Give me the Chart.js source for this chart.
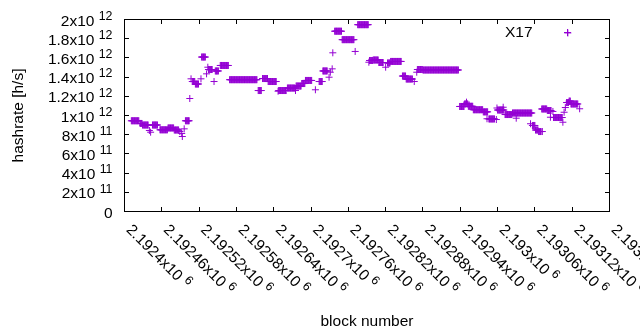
<!DOCTYPE html>
<html><head><meta charset="utf-8">
<script src="https://cdn.jsdelivr.net/npm/chart.js@4/dist/chart.umd.min.js"></script>
<style>html,body{margin:0;padding:0;background:#fff}</style>
</head><body>
<canvas id="c" width="640" height="330"></canvas>
<script>
// ---- data (block number, hashrate in h/s) ----
const seriesName = 'X17';
const blocks = [
2192411,2192412,2192413,2192414,2192415,2192416,2192417,2192418,2192419,2192420,2192421,2192422,2192423,
2192425,2192426,2192427,2192428,
2192429,2192430,2192431,2192432,2192433,2192434,2192435,2192436,2192437,2192438,
2192440,2192442,
2192445,2192446,2192447,2192448,2192449,2192450,2192451,2192452,2192453,
2192457,2192458,2192459,2192460,2192461,2192462,2192463,2192464,2192465,2192466,2192467,2192468,2192469,
2192470,2192471,2192472,2192473,2192474,2192475,2192476,2192477,2192478,2192479,
2192480,2192481,2192482,2192483,2192484,2192485,2192486,2192487,
2192489,2192492,2192493,2192496,
2192498,2192499,2192500,2192501,2192502,2192503,2192504,
2192505,2192507,
2192509,2192510,2192511,2192512,2192513,
2192514,2192515,2192516,2192517,2192518,2192519,
2192523,
2192524,2192525,2192526,2192527,2192528,2192529,2192530,
2192532,2192534,
2192535,2192536,2192537,2192538,2192539,2192540,2192541,
2192544,
2192546,2192547,2192548,2192549,2192550,2192551,
2192554,2192555,2192556,2192557,2192558,2192559,2192560,2192561,2192562,2192563,2192564,2192565,2192566,2192567,
2192569,2192570,2192571,2192572,2192573,2192574,2192575,2192576,2192577,2192578,
2192579,2192580,2192581,2192582,2192583,2192584,2192585,2192586,2192587,2192588,
2192589,2192590,2192591,2192592,2192593,2192594,2192595,2192596,2192597,2192598,
2192599,2192600,2192601,2192602,2192603,2192604,2192605,2192606,2192607,2192608,
2192609,2192610,2192611,2192612,2192613,
2192615,2192616,2192617,2192618,2192619,2192620,
2192622,2192623,2192624,2192625,2192626,2192627,2192628,2192629,2192630,
2192631,2192632,2192633,2192634,2192635,2192636,2192637,2192638,2192639,2192640,2192641,2192642,2192643,2192644,
2192647,
2192648,2192649,2192650,2192651,2192652,2192653,2192654,2192655,2192656,2192657,2192658,2192659,2192660,
2192662,2192663,2192664,2192665,2192666,2192667,2192668,2192669,2192670,2192671,2192672,2192673,2192674,
2192675,
2192676,2192677,2192678,2192679,2192680,2192681,2192682,2192683,2192684,
2192685,2192686,2192687,2192688,2192689,2192690,
2192691,2192692,2192693,2192694,2192695,2192696,2192697,2192698,2192699,2192700,2192701,
2192707,
2192713,2192714,2192715,2192716,2192717,2192718,
2192719,2192720,2192721,2192722,2192723,2192724,2192725,2192726,
2192729,2192731,2192734,2192735,
2192738,2192739,2192740,2192741,2192742,2192743,2192744,2192745,2192746,2192747,2192748,2192749,
2192750,2192751,2192752,2192753,2192754,2192755,2192756,2192757,2192758,2192759,
2192760,2192761,2192762,2192763,2192764,2192765,2192766,2192767,2192768,2192769,
2192771,
2192775,2192776,2192777,2192778,2192779,2192780,2192781,2192782,2192783,2192784,2192785,2192786,2192787,2192788,2192789,2192790,2192791,2192792,
2192793,
2192794,2192795,2192796,2192797,2192798,2192799,
2192800,2192801,2192802,2192803,2192804,2192805,2192806,2192807,2192808,
2192809,2192810,2192811,2192812,2192813,2192814,2192815,2192816,
2192820,
2192823,2192824,2192825,2192826,2192827,
2192828,2192829,2192830,2192831,2192832,2192833,2192834,2192835,2192836,2192837,2192838,2192839,2192840,2192841,2192842,2192843,2192844,2192845,
2192847,2192848,2192849,2192850,2192851,2192852,
2192853,2192854,2192855,2192856,2192857,2192858,2192859,2192860,2192861,2192862,2192863,
2192866,2192870,
2192871,2192872,2192873,2192874,2192875,2192876,2192877,2192878,2192879,
2192880,2192881,2192882,2192883,2192884,2192885,2192886,2192887,2192888,2192889,
2192890,2192891,2192892,2192893,2192894,2192895,2192896,2192897,2192898,2192899,
2192900,2192901,2192902,2192903,2192904,2192905,2192906,2192907,2192908,2192909,
2192910,2192911,2192912,2192913,2192914,2192915,2192916,2192917,2192918,2192919,
2192920,2192921,2192922,2192923,2192924,2192925,2192926,2192927,2192928,2192929,
2192930,2192931,2192932,2192933,2192934,2192935,2192936,2192937,
2192939,2192940,2192941,2192942,2192943,2192944,2192945,2192946,
2192947,2192948,2192949,2192950,2192951,2192952,
2192953,2192954,2192955,2192956,2192957,2192958,2192959,2192960,
2192961,2192962,2192963,2192964,2192965,2192966,2192967,2192968,2192969,2192970,2192971,2192972,2192973,2192974,2192975,2192976,
2192977,2192978,2192979,2192980,2192981,2192982,2192983,2192984,
2192983,
2192986,2192987,2192988,2192989,2192990,2192991,2192992,2192993,2192994,2192995,
2192998,2192999,
2193000,2193001,2193002,2193003,2193004,2193005,2193006,2193007,2193008,2193009,2193010,
2193009,
2193012,2193013,2193014,2193015,2193016,2193017,2193018,2193019,2193020,2193021,2193022,2193023,
2193024,2193025,2193026,2193027,2193028,2193029,2193030,2193031,2193032,2193033,
2193034,2193035,2193036,2193037,2193038,2193039,2193040,2193041,2193042,2193043,
2193044,2193045,2193046,2193047,2193048,2193049,2193050,2193051,2193052,2193053,
2193054,2193055,
2193030,2193053,
2193056,2193057,2193058,2193059,2193060,
2193061,2193062,2193063,2193064,2193065,
2193066,2193067,2193068,2193069,2193070,
2193072,
2193071,2193072,2193073,2193074,2193075,2193076,2193077,2193078,2193079,
2193080,2193081,2193082,2193083,2193084,2193085,2193086,
2193085,2193089,
2193090,2193091,2193092,2193093,2193094,2193095,2193096,2193097,2193098,2193099,2193100,2193101,2193102,2193103,2193104,
2193105,2193107,2193109,
2193111,2193112,2193113,2193114,
2193115,2193116,2193117,
2193113,
2193118,2193119,2193120,2193121,2193122,2193123,2193124,2193125,2193126,2193127,2193128,2193129,
2193132
];
const hashrate = [
9.45e11,9.45e11,9.45e11,9.45e11,9.45e11,9.45e11,9.45e11,9.45e11,9.45e11,9.45e11,9.45e11,9.45e11,9.45e11,
9.17e11,9.17e11,9.17e11,9.17e11,
9.01e11,9.01e11,9.01e11,9.01e11,9.01e11,9.01e11,9.01e11,9.01e11,9.01e11,9.01e11,
8.44e11,8.26e11,
9.01e11,9.01e11,9.01e11,9.01e11,9.01e11,9.01e11,9.01e11,9.01e11,9.01e11,
8.51e11,8.51e11,8.51e11,8.51e11,8.51e11,8.51e11,8.51e11,8.51e11,8.51e11,8.51e11,8.51e11,8.51e11,8.51e11,
8.70e11,8.70e11,8.70e11,8.70e11,8.70e11,8.70e11,8.70e11,8.70e11,8.70e11,8.70e11,
8.49e11,8.49e11,8.49e11,8.49e11,8.49e11,8.49e11,8.49e11,8.49e11,
8.33e11,8.13e11,7.81e11,8.61e11,
9.45e11,9.45e11,9.45e11,9.45e11,9.45e11,9.45e11,9.45e11,
1.177e12,1.382e12,
1.354e12,1.354e12,1.354e12,1.354e12,1.354e12,
1.328e12,1.328e12,1.328e12,1.328e12,1.328e12,1.328e12,
1.382e12,
1.609e12,1.609e12,1.609e12,1.609e12,1.609e12,1.609e12,1.609e12,
1.434e12,1.503e12,
1.479e12,1.479e12,1.479e12,1.479e12,1.479e12,1.479e12,1.479e12,
1.354e12,
1.464e12,1.464e12,1.464e12,1.464e12,1.464e12,1.464e12,
1.521e12,1.521e12,1.521e12,1.521e12,1.521e12,1.521e12,1.521e12,1.521e12,1.521e12,1.521e12,1.521e12,1.521e12,1.521e12,1.521e12,
1.373e12,1.373e12,1.373e12,1.373e12,1.373e12,1.373e12,1.373e12,1.373e12,1.373e12,1.373e12,
1.373e12,1.373e12,1.373e12,1.373e12,1.373e12,1.373e12,1.373e12,1.373e12,1.373e12,1.373e12,
1.373e12,1.373e12,1.373e12,1.373e12,1.373e12,1.373e12,1.373e12,1.373e12,1.373e12,1.373e12,
1.373e12,1.373e12,1.373e12,1.373e12,1.373e12,1.373e12,1.373e12,1.373e12,1.373e12,1.373e12,
1.373e12,1.373e12,1.373e12,1.373e12,1.373e12,
1.26e12,1.26e12,1.26e12,1.26e12,1.26e12,1.26e12,
1.385e12,1.385e12,1.385e12,1.385e12,1.385e12,1.385e12,1.385e12,1.385e12,1.385e12,
1.354e12,1.354e12,1.354e12,1.354e12,1.354e12,1.354e12,1.354e12,1.354e12,1.354e12,1.354e12,1.354e12,1.354e12,1.354e12,1.354e12,
1.253e12,
1.26e12,1.26e12,1.26e12,1.26e12,1.26e12,1.26e12,1.26e12,1.26e12,1.26e12,1.26e12,1.26e12,1.26e12,1.26e12,
1.286e12,1.286e12,1.286e12,1.286e12,1.286e12,1.286e12,1.286e12,1.286e12,1.286e12,1.286e12,1.286e12,1.286e12,1.286e12,
1.26e12,
1.307e12,1.307e12,1.307e12,1.307e12,1.307e12,1.307e12,1.307e12,1.307e12,1.307e12,
1.333e12,1.333e12,1.333e12,1.333e12,1.333e12,1.333e12,
1.365e12,1.365e12,1.365e12,1.365e12,1.365e12,1.365e12,1.365e12,1.365e12,1.365e12,1.365e12,1.365e12,
1.268e12,
1.354e12,1.354e12,1.354e12,1.354e12,1.354e12,1.354e12,
1.464e12,1.464e12,1.464e12,1.464e12,1.464e12,1.464e12,1.464e12,1.464e12,
1.399e12,1.451e12,1.486e12,1.653e12,
1.878e12,1.878e12,1.878e12,1.878e12,1.878e12,1.878e12,1.878e12,1.878e12,1.878e12,1.878e12,1.878e12,1.878e12,
1.79e12,1.79e12,1.79e12,1.79e12,1.79e12,1.79e12,1.79e12,1.79e12,1.79e12,1.79e12,
1.79e12,1.79e12,1.79e12,1.79e12,1.79e12,1.79e12,1.79e12,1.79e12,1.79e12,1.79e12,
1.667e12,
1.946e12,1.946e12,1.946e12,1.946e12,1.946e12,1.946e12,1.946e12,1.946e12,1.946e12,1.946e12,1.946e12,1.946e12,1.946e12,1.946e12,1.946e12,1.946e12,1.946e12,1.946e12,
1.555e12,
1.573e12,1.573e12,1.573e12,1.573e12,1.573e12,1.573e12,
1.578e12,1.578e12,1.578e12,1.578e12,1.578e12,1.578e12,1.578e12,1.578e12,1.578e12,
1.552e12,1.552e12,1.552e12,1.552e12,1.552e12,1.552e12,1.552e12,1.552e12,
1.503e12,
1.547e12,1.547e12,1.547e12,1.547e12,1.547e12,
1.563e12,1.563e12,1.563e12,1.563e12,1.563e12,1.563e12,1.563e12,1.563e12,1.563e12,1.563e12,1.563e12,1.563e12,1.563e12,1.563e12,1.563e12,1.563e12,1.563e12,1.563e12,
1.411e12,1.411e12,1.411e12,1.411e12,1.411e12,1.411e12,
1.38e12,1.38e12,1.38e12,1.38e12,1.38e12,1.38e12,1.38e12,1.38e12,1.38e12,1.38e12,1.38e12,
1.354e12,1.451e12,
1.479e12,1.479e12,1.479e12,1.479e12,1.479e12,1.479e12,1.479e12,1.479e12,1.479e12,
1.474e12,1.474e12,1.474e12,1.474e12,1.474e12,1.474e12,1.474e12,1.474e12,1.474e12,1.474e12,
1.474e12,1.474e12,1.474e12,1.474e12,1.474e12,1.474e12,1.474e12,1.474e12,1.474e12,1.474e12,
1.474e12,1.474e12,1.474e12,1.474e12,1.474e12,1.474e12,1.474e12,1.474e12,1.474e12,1.474e12,
1.474e12,1.474e12,1.474e12,1.474e12,1.474e12,1.474e12,1.474e12,1.474e12,1.474e12,1.474e12,
1.474e12,1.474e12,1.474e12,1.474e12,1.474e12,1.474e12,1.474e12,1.474e12,1.474e12,1.474e12,
1.474e12,1.474e12,1.474e12,1.474e12,1.474e12,1.474e12,1.474e12,1.474e12,
1.094e12,1.094e12,1.094e12,1.094e12,1.094e12,1.094e12,1.094e12,1.094e12,
1.12e12,1.12e12,1.12e12,1.139e12,1.12e12,1.12e12,
1.096e12,1.096e12,1.096e12,1.096e12,1.096e12,1.096e12,1.096e12,1.096e12,
1.06e12,1.06e12,1.06e12,1.06e12,1.06e12,1.06e12,1.06e12,1.06e12,1.06e12,1.06e12,1.06e12,1.06e12,1.06e12,1.06e12,1.06e12,1.06e12,
1.038e12,1.038e12,1.038e12,1.038e12,1.038e12,1.038e12,1.038e12,1.038e12,
9.66e11,
9.64e11,9.64e11,9.64e11,9.64e11,9.64e11,9.64e11,9.64e11,9.64e11,9.64e11,9.64e11,
9.58e11,1.078e12,
1.057e12,1.057e12,1.057e12,1.057e12,1.057e12,1.057e12,1.057e12,1.057e12,1.057e12,1.057e12,1.057e12,
1.086e12,
1.01e12,1.01e12,1.01e12,1.01e12,1.01e12,1.01e12,1.01e12,1.01e12,1.01e12,1.01e12,1.01e12,1.01e12,
1.026e12,1.026e12,1.026e12,1.026e12,1.026e12,1.026e12,1.026e12,1.026e12,1.026e12,1.026e12,
1.026e12,1.026e12,1.026e12,1.026e12,1.026e12,1.026e12,1.026e12,1.026e12,1.026e12,1.026e12,
1.026e12,1.026e12,1.026e12,1.026e12,1.026e12,1.026e12,1.026e12,1.026e12,1.026e12,1.026e12,
1.026e12,1.026e12,
9.72e11,9.14e11,
8.96e11,8.96e11,8.96e11,8.96e11,8.96e11,
8.49e11,8.49e11,8.49e11,8.49e11,8.49e11,
8.33e11,8.33e11,8.33e11,8.33e11,8.33e11,
8.33e11,
1.068e12,1.068e12,1.068e12,1.068e12,1.068e12,1.068e12,1.068e12,1.068e12,1.068e12,
1.052e12,1.052e12,1.052e12,1.052e12,1.052e12,1.052e12,1.052e12,
9.82e11,1.042e12,
9.79e11,9.79e11,9.79e11,9.79e11,9.79e11,9.79e11,9.79e11,9.79e11,9.79e11,9.79e11,9.79e11,9.79e11,9.79e11,9.79e11,9.79e11,
9.3e11,1.034e12,1.083e12,
1.135e12,1.135e12,1.135e12,1.135e12,
1.15e12,1.15e12,1.15e12,
1.86e12,
1.12e12,1.12e12,1.12e12,1.12e12,1.12e12,1.12e12,1.12e12,1.12e12,1.12e12,1.12e12,1.12e12,1.12e12,
1.07e12
];
// ---- ticks ----
const xTickValues = [2192400,2192460,2192520,2192580,2192640,2192700,2192760,2192820,2192880,2192940,2193000,2193060,2193120,2193180];
const xTickText = ['2.1924x10','2.19246x10','2.19252x10','2.19258x10','2.19264x10','2.1927x10','2.19276x10','2.19282x10','2.19288x10','2.19294x10','2.193x10','2.19306x10','2.19312x10','2.19318x10'];
const xTickSup = ['6','6','6','6','6','6','6','6','6','6','6','6','6','6'];
const yTickValues = [0,2e11,4e11,6e11,8e11,1e12,1.2e12,1.4e12,1.6e12,1.8e12,2e12];
const yTickText = ['0','2x10','4x10','6x10','8x10','1x10','1.2x10','1.4x10','1.6x10','1.8x10','2x10'];
const yTickSup = ['','11','11','11','11','12','12','12','12','12','12'];
const xTitle = 'block number';
const yTitle = 'hashrate [h/s]';

const COLOR = '#9400d3';
const FF = '"Liberation Sans", Arial, sans-serif';
const FS = 15.5, SS = 12.4;

function drawCross(ctx, x, y, r){
  ctx.beginPath();
  ctx.moveTo(x - r, y); ctx.lineTo(x + r, y);
  ctx.moveTo(x, y - r); ctx.lineTo(x, y + r);
  ctx.stroke();
}

const frame = {
  id: 'gnuframe',
  beforeDatasetsDraw(chart){
    const {ctx, chartArea: a, scales: {x, y}} = chart;
    ctx.save();
    ctx.strokeStyle = '#000'; ctx.lineWidth = 1;
    ctx.strokeRect(a.left, a.top, a.right - a.left, a.bottom - a.top);
    ctx.beginPath();
    xTickValues.forEach(v => {
      const px = Math.round(x.getPixelForValue(v) - 0.5) + 0.5;
      ctx.moveTo(px, a.bottom); ctx.lineTo(px, a.bottom - 4.5);
      ctx.moveTo(px, a.top); ctx.lineTo(px, a.top + 4.5);
    });
    yTickValues.forEach(v => {
      const py = Math.round(y.getPixelForValue(v) - 0.5) + 0.5;
      ctx.moveTo(a.left, py); ctx.lineTo(a.left + 4.5, py);
      ctx.moveTo(a.right, py); ctx.lineTo(a.right - 4.5, py);
    });
    ctx.stroke();
    ctx.restore();
  },
  afterDraw(chart){
    const {ctx, chartArea: a, scales: {x, y}} = chart;
    ctx.save();
    ctx.fillStyle = '#000';
    ctx.textBaseline = 'alphabetic';
    ctx.textAlign = 'left';
    // y tick labels
    yTickValues.forEach((v, i) => {
      const py = y.getPixelForValue(v);
      ctx.font = FS + 'px ' + FF;
      const wm = ctx.measureText(yTickText[i]).width;
      ctx.font = SS + 'px ' + FF;
      const ws = yTickSup[i] ? ctx.measureText(yTickSup[i]).width : 0;
      const gap = yTickSup[i] ? 4.3 : 0;
      const right = 112.5;
      const x0 = right - ws - gap - wm;
      ctx.font = FS + 'px ' + FF;
      ctx.fillText(yTickText[i], x0, py + 6);
      if (yTickSup[i]) {
        ctx.font = SS + 'px ' + FF;
        ctx.fillText(yTickSup[i], x0 + wm + gap, py + 0.3);
      }
    });
    // x tick labels, rotated
    xTickValues.forEach((v, i) => {
      const px = x.getPixelForValue(v);
      ctx.save();
      ctx.translate(px + 1, 230.5);
      ctx.rotate(Math.PI / 4);
      ctx.font = FS + 'px ' + FF;
      const wm = ctx.measureText(xTickText[i]).width;
      ctx.fillText(xTickText[i], 0, 0);
      ctx.font = SS + 'px ' + FF;
      ctx.fillText(xTickSup[i], wm + 4.3, -5.7);
      ctx.restore();
    });
    // axis titles
    ctx.font = FS + 'px ' + FF;
    ctx.textAlign = 'center';
    ctx.fillText(xTitle, (a.left + a.right) / 2, 325.5);
    ctx.save();
    ctx.translate(22.5, (a.top + a.bottom) / 2);
    ctx.rotate(-Math.PI / 2);
    ctx.fillText(yTitle, 0, 0);
    ctx.restore();
    // key
    ctx.textAlign = 'right';
    ctx.fillText(seriesName, 532.5, 37);
    ctx.strokeStyle = COLOR; ctx.lineWidth = 1;
    drawCross(ctx, 567.5, 32.5, 3.5);
    ctx.restore();
  }
};

new Chart(document.getElementById('c'), {
  type: 'scatter',
  data: {
    datasets: [{
      label: seriesName,
      data: blocks.map((b, i) => ({x: b, y: hashrate[i]})),
      pointStyle: 'cross',
      pointRadius: 3.5,
      pointHoverRadius: 3.5,
      borderColor: COLOR,
      backgroundColor: COLOR,
      borderWidth: 1,
      showLine: false
    }]
  },
  options: {
    responsive: false,
    animation: false,
    events: [],
    layout: {padding: {left: 124.5, right: 30.5, top: 19.5, bottom: 118.5}},
    plugins: {legend: {display: false}, tooltip: {enabled: false}},
    scales: {
      x: {type: 'linear', min: 2192400, max: 2193180, display: false},
      y: {type: 'linear', min: 0, max: 2e12, display: false}
    }
  },
  plugins: [frame]
});
</script>
</body></html>
